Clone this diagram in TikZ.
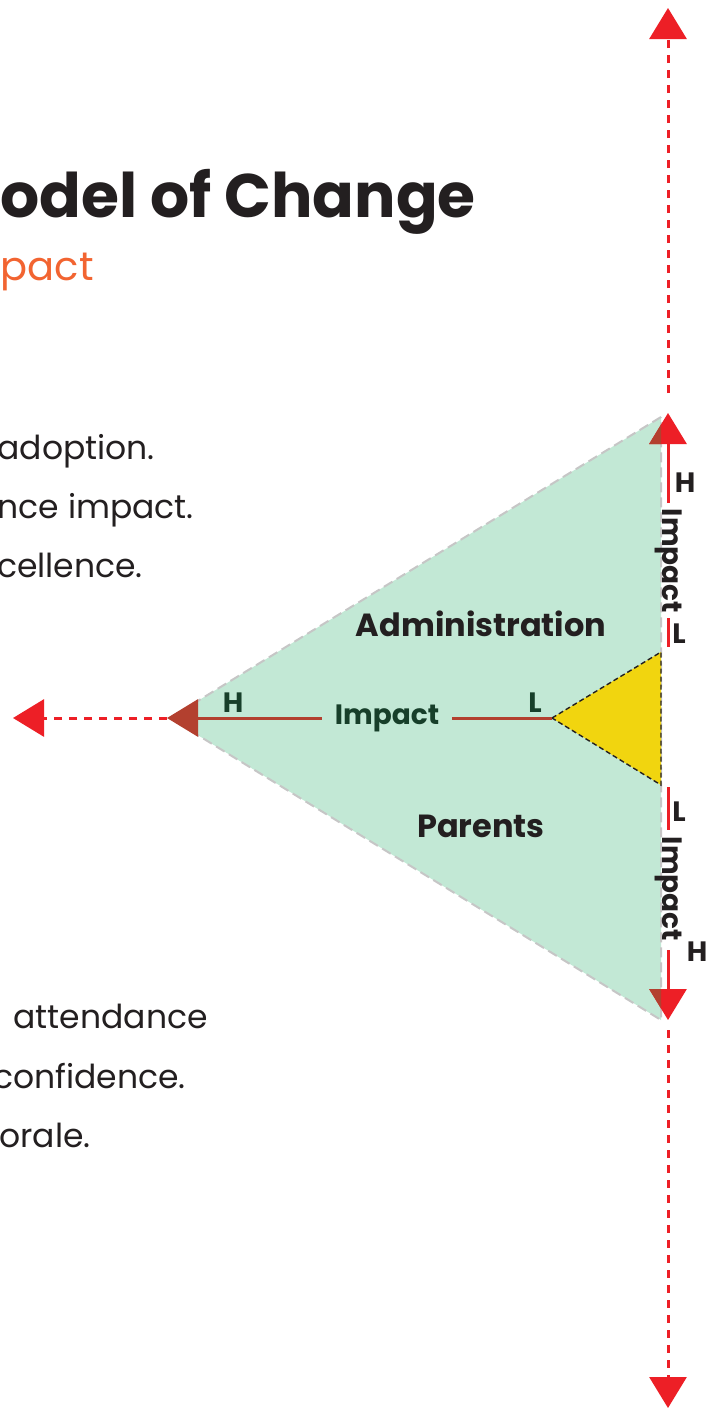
\documentclass[tikz,border=0pt]{standalone}
\usepackage{fontspec}
\setmainfont{Poppins}
\usetikzlibrary{arrows.meta}

\definecolor{mintfill}{HTML}{C2E8D5}
\definecolor{edgegray}{HTML}{C6C6C6}
\definecolor{coreyellow}{HTML}{F1D50F}
\definecolor{axisred}{HTML}{ED1F26}
\definecolor{rustred}{HTML}{B3402F}
\definecolor{deepgreen}{HTML}{173F2A}
\definecolor{inkblack}{HTML}{231F20}
\definecolor{titleorange}{HTML}{F26431}

\tikzset{
	axisdash/.style={axisred, line width=3pt, dash pattern=on 8pt off 7pt, -{Triangle[width=37pt,length=31pt]}},
	axissolid/.style={axisred, line width=3pt},
	axishead/.style={axissolid, -{Triangle[width=37pt,length=31pt]}},
	bodytext/.style={inkblack, font=\fontsize{33}{37}\selectfont, anchor=base east, inner sep=0pt},
	grouplabel/.style={inkblack, font=\fontsize{32}{36}\selectfont\bfseries},
	hltag/.style={font=\fontsize{28}{32}\selectfont\bfseries, inner sep=0pt},
	impacttag/.style={font=\fontsize{28}{32}\selectfont\bfseries}
}

\begin{document}
\begin{tikzpicture}[x=1pt, y=-1pt]
	\useasboundingbox (0,0) rectangle (711,1408);
	\fill[white] (0,0) rectangle (711,1408);

	% title block (cut at the left edge)
	\node[inkblack, font=\fontsize{61.5}{70}\selectfont\bfseries, anchor=base east, inner sep=0pt] (title) at (476,217) {odel of Change};
	\node[titleorange, font=\fontsize{40}{46}\selectfont, anchor=base east, inner sep=0pt] (subtitle) at (94,280) {pact};

	\node[bodytext] (lineA) at (155,459) {adoption.};
	\node[bodytext] (lineB) at (194,518) {nce impact.};
	\node[bodytext] (lineC) at (143,577) {cellence.};

	\node[bodytext] (lineD) at (208,1028) {attendance};
	\node[bodytext] (lineE) at (186,1088) {confidence.};
	\node[bodytext] (lineF) at (91,1147) {orale.};

	% triangle corners
	\coordinate (apexTop) at (661,417);
	\coordinate (apexLeft) at (170,718);
	\coordinate (apexBot) at (661,1020);
	\coordinate (coreTip) at (552,718);
	\coordinate (coreTop) at (661,652);
	\coordinate (coreBot) at (661,785);

	\fill[mintfill] (apexTop) -- (apexLeft) -- (apexBot) -- cycle;
	\draw[edgegray, line width=2pt, dash pattern=on 10pt off 5pt] (apexTop) -- (apexLeft) -- (apexBot) -- cycle;
	\draw[inkblack, line width=1.4pt, dash pattern=on 5pt off 3pt, fill=coreyellow] (coreTip) -- (coreTop) -- (coreBot) -- cycle;

	\node[grouplabel] (admin) at (481,624) {Administration};
	\node[grouplabel] (parents) at (481,826) {Parents};

	% horizontal impact axis
	\node[impacttag, deepgreen, inner sep=13pt] (impactH) at (387,718) {Impact};
	\node[hltag, deepgreen] (highH) at (233,703) {H};
	\node[hltag, deepgreen] (lowH) at (535,703) {L};
	\coordinate (rustTip) at (167,718);
	\coordinate (leftEnd) at (13,718);
	\draw[rustred, line width=3pt] (coreTip) -- (impactH.east);
	\draw[rustred, line width=3pt, -{Triangle[width=37pt,length=31pt]}] (impactH.west) -- (rustTip);
	\draw[axisdash] (rustTip) -- (leftEnd);

	% vertical impact axis, top half
	\coordinate (topEnd) at (668,8);
	\coordinate (topDash) at (668,393);
	\coordinate (topTip) at (668,413);
	\coordinate (topStem) at (668,503);
	\coordinate (topLowA) at (668,618);
	\coordinate (topLowB) at (668,647);
	\draw[axisdash] (topDash) -- (topEnd);
	\draw[axishead] (topStem) -- (topTip);
	\draw[axissolid] (topLowA) -- (topLowB);
	\node[impacttag, inkblack, rotate=-90] (impactTop) at (669,561) {Impact};
	\node[hltag, inkblack] (highTop) at (685,483) {H};
	\node[hltag, inkblack] (lowTop) at (679,634) {L};

	% vertical impact axis, bottom half
	\coordinate (botLowA) at (668,787);
	\coordinate (botLowB) at (668,830);
	\coordinate (botStem) at (668,950);
	\coordinate (botTip) at (668,1020);
	\coordinate (botDash) at (668,1030);
	\coordinate (botEnd) at (668,1408);
	\draw[axissolid] (botLowA) -- (botLowB);
	\draw[axishead] (botStem) -- (botTip);
	\draw[axisdash] (botDash) -- (botEnd);
	\node[impacttag, inkblack, rotate=-90] (impactBot) at (669,889) {Impact};
	\node[hltag, inkblack] (lowBot) at (679,812) {L};
	\node[hltag, inkblack] (highBot) at (697,952) {H};

	% arrow heads seen through the triangle
	\begin{scope}
		\clip (apexTop) -- (apexLeft) -- (apexBot) -- cycle;
		\draw[rustred, line width=3pt, -{Triangle[width=37pt,length=31pt]}] (topStem) -- (topTip);
		\draw[rustred, line width=3pt, -{Triangle[width=37pt,length=31pt]}] (botStem) -- (botTip);
	\end{scope}
\end{tikzpicture}
\end{document}
